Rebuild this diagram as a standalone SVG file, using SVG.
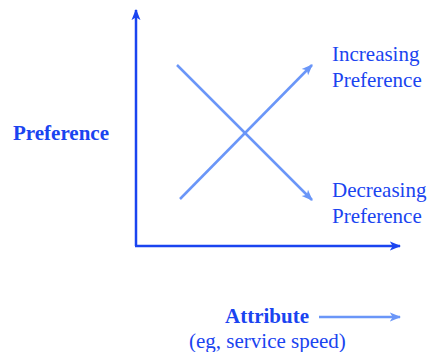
<svg xmlns="http://www.w3.org/2000/svg" width="430" height="352" viewBox="0 0 430 352">
<style>
text{font-family:"Liberation Serif","Times New Roman",serif;font-size:21px;fill:#1a44f0}
.b{font-weight:bold}
.axis{stroke:#1a44f0;stroke-width:2.5;fill:none}
.line{stroke:#6a96f8;stroke-width:2.5;fill:none}
</style>
<defs>
<marker id="ha" viewBox="0 0 10 10" refX="9" refY="5" markerWidth="4.5" markerHeight="4.5" orient="auto" markerUnits="strokeWidth">
<path d="M0,1 L10,5 L0,9 L2.5,5 Z" fill="#1a44f0"/>
</marker>
<marker id="hl" viewBox="0 0 10 10" refX="9" refY="5" markerWidth="4.5" markerHeight="4.5" orient="auto" markerUnits="strokeWidth">
<path d="M0,1 L10,5 L0,9 L2.5,5 Z" fill="#6a96f8"/>
</marker>
</defs>
<g id="connectors">
<path class="axis" d="M136,246 L136,10" marker-end="url(#ha)"/>
<path class="axis" d="M135,246 L400,246" marker-end="url(#ha)"/>
<path class="line" d="M180,199 L312,65" marker-end="url(#hl)"/>
<path class="line" d="M177,65 L312,200" marker-end="url(#hl)"/>
<path class="line" d="M319,317 L400,317" marker-end="url(#hl)"/>
</g>
<g id="ylabel"><text class="b" x="13" y="140">Preference</text></g>
<g id="increasing"><text x="332" y="61">Increasing</text><text x="332" y="87">Preference</text></g>
<g id="decreasing"><text x="332" y="197">Decreasing</text><text x="332" y="223">Preference</text></g>
<g id="xlabel"><text class="b" x="225" y="323">Attribute</text><text x="189" y="348">(eg, service speed)</text></g>
</svg>
